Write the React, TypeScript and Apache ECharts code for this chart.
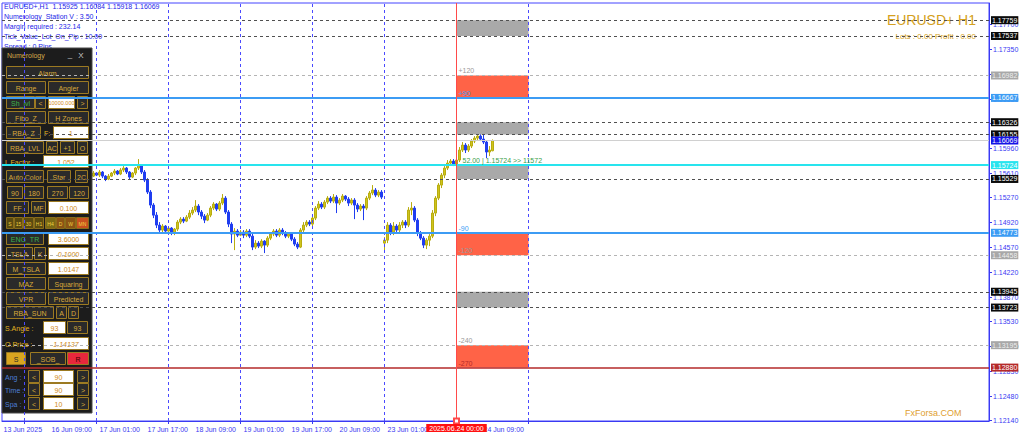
import { useEffect, useRef } from 'react';
import * as echarts from 'echarts';

// ---------- data ----------
const BAR_COUNT = 329;
const FIRST_BAR = 30;

const OPEN = [
  1.15569, 1.15612, 1.15583, 1.15626, 1.15569, 1.15527, 1.15569, 1.15612, 1.15640, 1.15598,
  1.15654, 1.15682, 1.15626, 1.15555, 1.15612, 1.15682, 1.15724, 1.15626, 1.15513, 1.15345,
  1.15162, 1.15021, 1.14881, 1.14811, 1.14867, 1.14797, 1.14839, 1.14769, 1.14825, 1.14923,
  1.14965, 1.14937, 1.14993, 1.15050, 1.15092, 1.15148, 1.15064, 1.15007, 1.14951, 1.15021,
  1.15120, 1.15176, 1.15106, 1.15190, 1.15260, 1.15064, 1.14895, 1.14755, 1.14797, 1.14740,
  1.14783, 1.14740, 1.14797, 1.14726, 1.14572, 1.14628, 1.14586, 1.14656, 1.14600, 1.14698,
  1.14755, 1.14797, 1.14740, 1.14811, 1.14769, 1.14726, 1.14755, 1.14684, 1.14614, 1.14572,
  1.14811, 1.14881, 1.14923, 1.14895, 1.14979, 1.15120, 1.15176, 1.15134, 1.15204, 1.15260,
  1.15218, 1.15274, 1.15190, 1.15232, 1.15288, 1.15246, 1.15190, 1.15232, 1.15162, 1.15106,
  1.15148, 1.15120, 1.15260, 1.15331, 1.15373, 1.15302, 1.15345, 1.14628, 1.14670, 1.14881,
  1.14783, 1.14867, 1.14811, 1.14881, 1.14923, 1.14881, 1.15092, 1.15120, 1.14951, 1.14769,
  1.14698, 1.14600, 1.14670, 1.14726, 1.15050, 1.15260, 1.15443, 1.15583, 1.15682, 1.15752,
  1.15780, 1.15738, 1.15794, 1.15935, 1.16005, 1.15935, 1.15991, 1.16061, 1.16103, 1.16131,
  1.16089, 1.16047, 1.15907, 1.15925,
];
const CLOSE = [
  1.15612, 1.15583, 1.15626, 1.15569, 1.15527, 1.15569, 1.15612, 1.15640, 1.15598, 1.15654,
  1.15682, 1.15626, 1.15555, 1.15612, 1.15682, 1.15724, 1.15626, 1.15513, 1.15345, 1.15162,
  1.15021, 1.14881, 1.14811, 1.14867, 1.14797, 1.14839, 1.14769, 1.14825, 1.14923, 1.14965,
  1.14937, 1.14993, 1.15050, 1.15092, 1.15148, 1.15064, 1.15007, 1.14951, 1.15021, 1.15120,
  1.15176, 1.15106, 1.15190, 1.15260, 1.15064, 1.14895, 1.14755, 1.14797, 1.14740, 1.14783,
  1.14740, 1.14797, 1.14726, 1.14572, 1.14628, 1.14586, 1.14656, 1.14600, 1.14698, 1.14755,
  1.14797, 1.14740, 1.14811, 1.14769, 1.14726, 1.14755, 1.14684, 1.14614, 1.14572, 1.14811,
  1.14881, 1.14923, 1.14895, 1.14979, 1.15120, 1.15176, 1.15134, 1.15204, 1.15260, 1.15218,
  1.15274, 1.15190, 1.15232, 1.15288, 1.15246, 1.15190, 1.15232, 1.15162, 1.15106, 1.15148,
  1.15120, 1.15260, 1.15331, 1.15373, 1.15302, 1.15345, 1.15274, 1.14670, 1.14881, 1.14783,
  1.14867, 1.14811, 1.14881, 1.14923, 1.14881, 1.15092, 1.15120, 1.14951, 1.14769, 1.14698,
  1.14600, 1.14670, 1.14726, 1.15050, 1.15260, 1.15443, 1.15583, 1.15682, 1.15752, 1.15780,
  1.15738, 1.15794, 1.15935, 1.16005, 1.15935, 1.15991, 1.16061, 1.16103, 1.16131, 1.16089,
  1.16047, 1.15907, 1.15935, 1.16069,
];
const LOW = [
  1.15555, 1.15569, 1.15555, 1.15541, 1.15499, 1.15513, 1.15555, 1.15583, 1.15583, 1.15583,
  1.15626, 1.15598, 1.15527, 1.15541, 1.15583, 1.15654, 1.15598, 1.15485, 1.15317, 1.15120,
  1.14979, 1.14839, 1.14769, 1.14783, 1.14769, 1.14755, 1.14740, 1.14740, 1.14797, 1.14895,
  1.14909, 1.14923, 1.14965, 1.15021, 1.15064, 1.15021, 1.14965, 1.14909, 1.14937, 1.14993,
  1.15092, 1.15078, 1.15078, 1.15162, 1.15036, 1.14853, 1.14628, 1.14530, 1.14712, 1.14726,
  1.14698, 1.14712, 1.14698, 1.14530, 1.14544, 1.14558, 1.14558, 1.14488, 1.14572, 1.14670,
  1.14726, 1.14712, 1.14712, 1.14740, 1.14698, 1.14698, 1.14656, 1.14586, 1.14544, 1.14558,
  1.14783, 1.14853, 1.14867, 1.14867, 1.14951, 1.15092, 1.15106, 1.15106, 1.15176, 1.15190,
  1.15190, 1.15050, 1.15162, 1.15204, 1.15218, 1.15148, 1.15162, 1.14965, 1.15064, 1.15078,
  1.14951, 1.15092, 1.15232, 1.15302, 1.15274, 1.15274, 1.15246, 1.14530, 1.14628, 1.14740,
  1.14740, 1.14783, 1.14783, 1.14839, 1.14839, 1.14853, 1.15021, 1.14923, 1.14726, 1.14670,
  1.14558, 1.14544, 1.14586, 1.14698, 1.15007, 1.15232, 1.15401, 1.15541, 1.15654, 1.15724,
  1.15710, 1.15710, 1.15766, 1.15907, 1.15893, 1.15907, 1.15963, 1.16033, 1.16075, 1.16061,
  1.16019, 1.15822, 1.15850, 1.15918,
];
const HIGH = [
  1.15640, 1.15626, 1.15654, 1.15640, 1.15583, 1.15598, 1.15626, 1.15668, 1.15654, 1.15682,
  1.15710, 1.15696, 1.15640, 1.15626, 1.15696, 1.15808, 1.15738, 1.15654, 1.15541, 1.15373,
  1.15190, 1.15064, 1.14923, 1.14895, 1.14881, 1.14867, 1.14853, 1.14839, 1.14951, 1.14993,
  1.14993, 1.15021, 1.15092, 1.15134, 1.15232, 1.15176, 1.15092, 1.15036, 1.15050, 1.15148,
  1.15204, 1.15190, 1.15218, 1.15317, 1.15288, 1.15092, 1.14923, 1.14839, 1.14825, 1.14811,
  1.14811, 1.14825, 1.14825, 1.14769, 1.14670, 1.14656, 1.14684, 1.14670, 1.14726, 1.14783,
  1.14825, 1.14825, 1.14839, 1.14839, 1.14797, 1.14783, 1.14769, 1.14712, 1.14642, 1.14839,
  1.14923, 1.14951, 1.14951, 1.15007, 1.15148, 1.15218, 1.15204, 1.15232, 1.15288, 1.15288,
  1.15317, 1.15302, 1.15260, 1.15317, 1.15302, 1.15274, 1.15260, 1.15260, 1.15190, 1.15176,
  1.15176, 1.15288, 1.15359, 1.15443, 1.15401, 1.15373, 1.15373, 1.14712, 1.14923, 1.14909,
  1.14923, 1.14895, 1.14923, 1.14951, 1.14951, 1.15134, 1.15204, 1.15148, 1.14979, 1.14797,
  1.14726, 1.14698, 1.14755, 1.15092, 1.15288, 1.15471, 1.15612, 1.15710, 1.15794, 1.15808,
  1.15808, 1.15822, 1.15977, 1.16047, 1.16033, 1.16019, 1.16089, 1.16131, 1.16159, 1.16202,
  1.16244, 1.16075, 1.15991, 1.16084,
];

const TIME_LABELS = [
  '13 Jun 2025', '16 Jun 09:00', '17 Jun 01:00', '17 Jun 17:00', '18 Jun 09:00',
  '19 Jun 01:00', '19 Jun 17:00', '20 Jun 09:00', '23 Jun 01:00', '', '24 Jun 09:00',
];
const LABEL_STEP = 16;
const DAY_STARTS = [7, 31, 55, 79, 103, 127, 175];
const MARKER_BAR = 151;
const MARKER_LABEL = '2025.06.24 00:00';
const ZONE_END_BAR = 175;

const PRICE_MIN = 1.1213;
const PRICE_MAX = 1.18;
const PRICE_TICKS = [
  1.177, 1.1735, 1.17, 1.1665, 1.1631, 1.1596, 1.1561, 1.1527, 1.1492,
  1.1457, 1.1422, 1.1387, 1.1353, 1.1318, 1.1283, 1.1248, 1.1214,
];

const LEVEL_VALUES = [
  1.17759, 1.17537, 1.16982, 1.16667, 1.16326, 1.16155, 1.16069, 1.15724,
  1.15529, 1.14773, 1.14458, 1.13945, 1.13723, 1.13195, 1.1288,
];
const LEVEL_KINDS = [
  'dark', 'dark', 'gray', 'blue', 'dark', 'dark', 'bid', 'cyan',
  'dark', 'blue', 'gray', 'dark', 'dark', 'gray', 'red',
];

const ZONE_TOPS = [1.17759, 1.16982, 1.16326, 1.15724, 1.14773, 1.13945, 1.13195];
const ZONE_BOTTOMS = [1.17537, 1.16667, 1.16155, 1.15529, 1.14458, 1.13723, 1.1288];
const ZONE_KINDS = ['gray', 'red', 'gray', 'gray', 'red', 'gray', 'red'];

const ZONE_LEVEL_VALUES = [1.16982, 1.16667, 1.14773, 1.14458, 1.13195, 1.1288];
const ZONE_LEVEL_TEXTS = ['+120', '+90', '-90', '-120', '-240', '-270'];
const ZONE_LEVEL_KINDS = ['gray', 'blue', 'blue', 'gray', 'gray', 'red'];

const SIGNAL_LEVEL = 1.15724;
const SIGNAL_TEXT = '52.00 | 1.15724 >> 11572';

const INFO_LINES = [
  'EURUSD+,H1  1.15925 1.16084 1.15918 1.16069',
  'Numerology_Station V : 3.50',
  'Margin required : 232.14',
  'Tick_Value_Lot_On_Pip : 10.00',
  'Spread : 0 Pips',
];
const TITLE_TEXT = 'EURUSD+ H1';
const LOTS_TEXT = 'Lots : 0.00 Profit : 0.00';
const BRAND_TEXT = 'FxForsa.COM';

// panel layout: [text, x, y, w, h, kind]
const PANEL_LAYOUT: [string, number, number, number, number, string][] = [
  ['Alarm', 6, 66, 82, 12, 'btn'],
  ['Range', 6, 81, 39, 12, 'btn'], ['Angler', 48, 81, 40, 12, 'btn'],
  ['Sh_lvl', 6, 96, 28, 12, 'btnG'], ['<', 35, 96, 10, 12, 'btn'], ['10000.000', 48, 96, 26, 12, 'inpS'], ['>', 77, 96, 10, 12, 'btn'],
  ['Fibo_Z', 6, 111, 39, 12, 'btn'], ['H Zones', 48, 111, 40, 12, 'btn'],
  ['RBA_Z', 6, 126, 34, 12, 'btn'], ['F:', 43, 126, 8, 12, 'lbl'], ['1', 53, 126, 35, 12, 'inp'],
  ['RBA_LVL', 6, 141, 37, 12, 'btn'], ['AC', 46, 141, 11, 12, 'btn'], ['+1', 60, 141, 14, 12, 'btn'], ['O', 77, 141, 10, 12, 'btn'],
  ['L Factor :', 4, 155, 36, 12, 'lbl'], ['1.052', 43, 155, 45, 12, 'inp'],
  ['Auto Color', 6, 170, 37, 12, 'btn'], ['Star', 47, 170, 23, 12, 'btn'], ['2C', 75, 170, 12, 12, 'btn'],
  ['90', 7, 186, 15, 12, 'btn'], ['180', 24, 186, 19, 12, 'btn'], ['270', 47, 186, 20, 12, 'btn'], ['120', 69, 186, 19, 12, 'btn'],
  ['FF', 6, 201, 22, 12, 'btn'], ['MF', 31, 201, 14, 12, 'btn'], ['0.100', 48, 201, 40, 12, 'inp'],
  ['S', 6, 217, 7, 11, 'tfA'], ['15', 14, 217, 8, 11, 'tfA'], ['30', 23, 217, 10, 11, 'tfA'], ['H1', 34, 217, 9, 11, 'tfA'],
  ['H4', 45, 217, 10, 11, 'tfB'], ['D', 56, 217, 8, 11, 'tfC'], ['W', 65, 217, 10, 11, 'tfC'], ['MN', 76, 217, 12, 11, 'tfD'],
  ['ENG_TR', 6, 232, 37, 12, 'btnG'], ['3.6000', 48, 232, 40, 12, 'inp'],
  ['TSLA', 6, 247, 26, 12, 'btn'], ['K', 34, 247, 11, 12, 'btn'], ['0.1000', 48, 247, 40, 12, 'inpI'],
  ['M_TSLA', 6, 262, 39, 12, 'btn'], ['1.0147', 48, 262, 40, 12, 'inp'],
  ['MAZ', 6, 277, 39, 12, 'btn'], ['Squaring', 48, 277, 40, 12, 'btn'],
  ['VPR', 6, 292, 39, 12, 'btn'], ['Predicted', 48, 292, 40, 12, 'btn'],
  ['RBA_SUN', 6, 306, 47, 12, 'btn'], ['A', 56, 306, 10, 12, 'btn'], ['D', 68, 306, 10, 12, 'btn'],
  ['S.Angle :', 4, 321, 36, 12, 'lbl'], ['93', 43, 321, 22, 12, 'inp'], ['93', 67, 321, 20, 12, 'btn'],
  ['O.Price :', 4, 337, 36, 12, 'lbl'], ['1.14137', 43, 337, 45, 12, 'inpI'],
  ['S', 6, 352, 19, 12, 'gold'], ['_SOB_', 30, 352, 35, 12, 'btn'], ['R', 67, 352, 21, 12, 'redb'],
  ['Ang :', 4, 370, 22, 12, 'lblB'], ['<', 28, 370, 11, 12, 'btn'], ['90', 43, 370, 30, 12, 'inp'], ['>', 77, 370, 11, 12, 'btn'],
  ['Time :', 4, 383, 22, 12, 'lblB'], ['<', 28, 383, 11, 12, 'btn'], ['90', 43, 383, 30, 12, 'inp'], ['>', 77, 383, 11, 12, 'btn'],
  ['Spa :', 4, 397, 22, 12, 'lblB'], ['<', 28, 397, 11, 12, 'btn'], ['10', 43, 397, 30, 12, 'inp'], ['>', 77, 397, 11, 12, 'btn'],
];

// ---------- styles ----------
const FONT = 'Liberation Sans';
const AXIS_BLUE = '#3a3af2';
const GOLD = '#d4a020';
const CLEAR = 'rgba(0,0,0,0)';

const LEVEL_STYLE: Record<string, any> = {
  dark: { line: '#505050', type: [3, 3], width: 1, bg: '#0a0a0a', fg: '#ffffff' },
  gray: { line: '#b4b4b4', type: [3, 3], width: 1, bg: '#a8a8a8', fg: '#eeeeee' },
  bid: { line: '#d0d0d0', type: 'solid', width: 1, bg: '#1414e6', fg: '#ffffff' },
  blue: { line: '#3c9cf4', type: 'solid', width: 2, bg: '#3c9cf4', fg: '#ffffff' },
  cyan: { line: '#28e4ee', type: 'solid', width: 2, bg: '#28e4ee', fg: '#ffffff' },
  red: { line: '#b52a2a', type: 'solid', width: 1.5, bg: '#b52a2a', fg: '#ffffff' },
};
const UPPER_KINDS = ['blue', 'cyan', 'red'];
const ZONE_FILL: Record<string, string> = { gray: '#a9a9a9', red: '#ff6347' };
const ZONE_TEXT: Record<string, string> = { gray: '#9a9a9a', blue: '#3c9cf4', red: '#b52a2a' };

const KIND_STYLE: Record<string, any> = {
  btn: { fill: '#2a2a2a', stroke: '#9c7a22', text: '#d9a93a' },
  btnG: { fill: '#2a2a2a', stroke: '#9c7a22', text: '#3cb44a' },
  inp: { fill: '#ffffff', stroke: '#9c7a22', text: '#d08a1a' },
  inpS: { fill: '#ffffff', stroke: '#9c7a22', text: '#d08a1a', size: 5.5 },
  inpI: { fill: '#ffffff', stroke: '#9c7a22', text: '#d08a1a', italic: true },
  lbl: { text: '#e2b420' },
  lblB: { text: '#4d7fd6' },
  gold: { fill: '#d9a520', stroke: '#9c7a22', text: '#2a2a2a' },
  redb: { fill: '#e8283c', stroke: '#9c7a22', text: '#3a0000' },
  tfA: { fill: '#5a4a10', stroke: '#8a6d1a', text: '#f0d040', size: 5 },
  tfB: { fill: '#7a6a14', stroke: '#8a6d1a', text: '#f0d040', size: 5 },
  tfC: { fill: '#8a5414', stroke: '#8a6d1a', text: '#f0d040', size: 5 },
  tfD: { fill: '#c8501e', stroke: '#8a6d1a', text: '#f0d040', size: 5 },
};

function textEl(text: string, x: number, y: number, fill: string, size: number, align: string, z2: number, extra: any = {}) {
  return {
    type: 'text', x, y, z: 1, z2, silent: true,
    style: {
      text, fill, fontSize: size, fontFamily: FONT,
      align, verticalAlign: 'middle', textAlign: align, textVerticalAlign: 'middle', ...extra,
    },
  };
}

function buildOption() {
  const categories = Array.from({ length: BAR_COUNT }, (_, i) => String(i));
  const candles = categories.map((_, i) => {
    const k = i - FIRST_BAR;
    return k >= 0 && k < OPEN.length ? [OPEN[k], CLOSE[k], LOW[k], HIGH[k]] : '-';
  });

  const levelLine = (v: number, kind: string) => {
    const s = LEVEL_STYLE[kind];
    return {
      yAxis: v,
      lineStyle: { color: s.line, width: s.width, type: s.type },
      label: {
        show: true, position: 'end', distance: 2, formatter: v.toFixed(5),
        color: s.fg, backgroundColor: s.bg, padding: [1, 1, 0, 1],
        fontSize: 7, fontFamily: FONT,
      },
    };
  };

  const dayLines: any[] = DAY_STARTS.map((i) => ({
    xAxis: i,
    lineStyle: { color: '#4a4aff', type: [3, 3], width: 1 },
    label: { show: false },
  }));

  const lowerLines: any[] = [];
  const upperLines: any[] = [];
  LEVEL_VALUES.forEach((v, k) => {
    const kind = LEVEL_KINDS[k];
    (UPPER_KINDS.includes(kind) ? upperLines : lowerLines).push(levelLine(v, kind));
  });

  upperLines.push({
    xAxis: MARKER_BAR,
    symbol: 'emptyRect',
    symbolSize: 5,
    lineStyle: { color: '#ff4a4a', width: 1, type: 'solid' },
    label: {
      show: true, position: 'start', distance: 3, formatter: MARKER_LABEL,
      color: '#ffffff', backgroundColor: '#ff1010', padding: [1, 3, 0, 3],
      fontSize: 7, fontFamily: FONT,
    },
  });
  ZONE_LEVEL_VALUES.forEach((v, k) => {
    upperLines.push([
      {
        coord: [MARKER_BAR, v],
        lineStyle: { color: CLEAR, width: 0 },
        label: {
          show: true, position: 'insideStartTop', distance: [2, 1], opacity: 1,
          formatter: ZONE_LEVEL_TEXTS[k], color: ZONE_TEXT[ZONE_LEVEL_KINDS[k]],
          fontSize: 7, fontFamily: FONT,
        },
      },
      { coord: [ZONE_END_BAR, v] },
    ]);
  });
  upperLines.push([
    {
      coord: [MARKER_BAR, SIGNAL_LEVEL],
      lineStyle: { color: CLEAR, width: 0 },
      label: {
        show: true, position: 'insideStartTop', distance: [6, 1], opacity: 1,
        formatter: SIGNAL_TEXT, color: '#3aa04a', fontSize: 7, fontFamily: FONT,
      },
    },
    { coord: [ZONE_END_BAR, SIGNAL_LEVEL] },
  ]);

  const zones = ZONE_TOPS.map((top, k) => [
    { xAxis: MARKER_BAR, yAxis: top, itemStyle: { color: ZONE_FILL[ZONE_KINDS[k]] } },
    { xAxis: ZONE_END_BAR, yAxis: ZONE_BOTTOMS[k] },
  ]);

  // graphic (panel sits above candles/day lines, below the level lines)
  const graphics: any[] = [];
  INFO_LINES.forEach((t, k) => {
    graphics.push(textEl(t, 4, 6 + k * 10, '#2424e8', 7, 'left', 1));
  });
  graphics.push(textEl(TITLE_TEXT, 976, 20, GOLD, 14, 'right', 1));
  graphics.push(textEl(LOTS_TEXT, 976, 36, GOLD, 8, 'right', 1));
  graphics.push(textEl(BRAND_TEXT, 905, 413, '#e0a030', 9, 'left', 1));

  graphics.push({
    type: 'rect', z: 1, z2: 5, silent: true,
    shape: { x: 2, y: 48, width: 90, height: 365 },
    style: { fill: '#1c1c1c', stroke: '#4a4a4a', lineWidth: 1 },
  });
  graphics.push(textEl('Numerology', 7, 55, '#d4a84a', 7, 'left', 20));
  graphics.push(textEl('_', 70, 54, '#c8c8c8', 8, 'center', 20));
  graphics.push(textEl('X', 81, 55, '#c8c8c8', 8, 'center', 20));
  PANEL_LAYOUT.forEach(([text, x, y, w, h, kind]) => {
    const s = KIND_STYLE[kind];
    if (s.fill) {
      graphics.push({
        type: 'rect', z: 1, z2: 10, silent: true,
        shape: { x: x + 0.5, y: y + 0.5, width: w, height: h },
        style: { fill: s.fill, stroke: s.stroke, lineWidth: 1 },
      });
      graphics.push(textEl(text, x + w / 2 + 0.5, y + h / 2 + 1, s.text, s.size ?? 7, 'center', 20,
        s.italic ? { fontStyle: 'italic' } : {}));
    } else {
      graphics.push(textEl(text, x + 1, y + h / 2 + 1, s.text, 7, 'left', 20));
    }
  });

  const blank = categories.map(() => '-');

  return {
    animation: false,
    backgroundColor: '#ffffff',
    tooltip: { show: false },
    grid: {
      left: 2, right: 35, top: 3, bottom: 18,
      show: true, borderColor: '#4444ff', borderWidth: 1, backgroundColor: 'transparent',
    },
    xAxis: {
      type: 'category',
      data: categories,
      boundaryGap: true,
      axisLine: { lineStyle: { color: AXIS_BLUE } },
      axisTick: {
        show: true, alignWithLabel: true, length: 3,
        interval: (i: number) => DAY_STARTS.includes(i),
        lineStyle: { color: AXIS_BLUE },
      },
      axisLabel: {
        interval: (i: number) => i % LABEL_STEP === 0 && !!TIME_LABELS[i / LABEL_STEP],
        formatter: (_v: string, i: number) => TIME_LABELS[i / LABEL_STEP] ?? '',
        align: 'left', color: AXIS_BLUE, fontSize: 7, fontFamily: FONT, margin: 5,
      },
      splitLine: { show: false },
    },
    yAxis: {
      type: 'value',
      position: 'right',
      min: PRICE_MIN,
      max: PRICE_MAX,
      axisLine: { show: true, lineStyle: { color: AXIS_BLUE } },
      axisTick: { show: true, customValues: PRICE_TICKS, length: 3, lineStyle: { color: AXIS_BLUE } },
      axisLabel: {
        customValues: PRICE_TICKS,
        formatter: (v: number) => v.toFixed(5),
        color: AXIS_BLUE, fontSize: 7, fontFamily: FONT, margin: 4,
      },
      splitLine: { show: false },
    },
    graphic: { elements: graphics },
    series: [
      {
        type: 'candlestick',
        z: -1,
        silent: true,
        data: candles,
        barWidth: 2,
        itemStyle: {
          color: '#cfc41c', color0: '#1f3df0',
          borderColor: '#b8ac10', borderColor0: '#1f3df0', borderWidth: 1,
        },
        markArea: { silent: true, data: zones },
        markLine: { silent: true, precision: 5, symbol: ['none', 'none'], data: dayLines },
      },
      {
        type: 'line',
        z: 3,
        silent: true,
        data: blank,
        showSymbol: false,
        markLine: { silent: true, precision: 5, symbol: ['none', 'none'], data: lowerLines },
      },
      {
        type: 'line',
        z: 10,
        silent: true,
        data: blank,
        showSymbol: false,
        markLine: { silent: true, precision: 5, symbol: ['none', 'none'], data: upperLines },
      },
    ],
  };
}

export default function App() {
  const ref = useRef<HTMLDivElement>(null);
  useEffect(() => {
    if (!ref.current) return;
    document.body.style.margin = '0';
    const chart = echarts.init(ref.current, null, { renderer: 'svg' });
    chart.setOption(buildOption() as any);
    return () => chart.dispose();
  }, []);
  return (
    <div
      ref={ref}
      style={{ width: 1024, height: 439, background: '#ffffff', margin: 0 }}
    />
  );
}
